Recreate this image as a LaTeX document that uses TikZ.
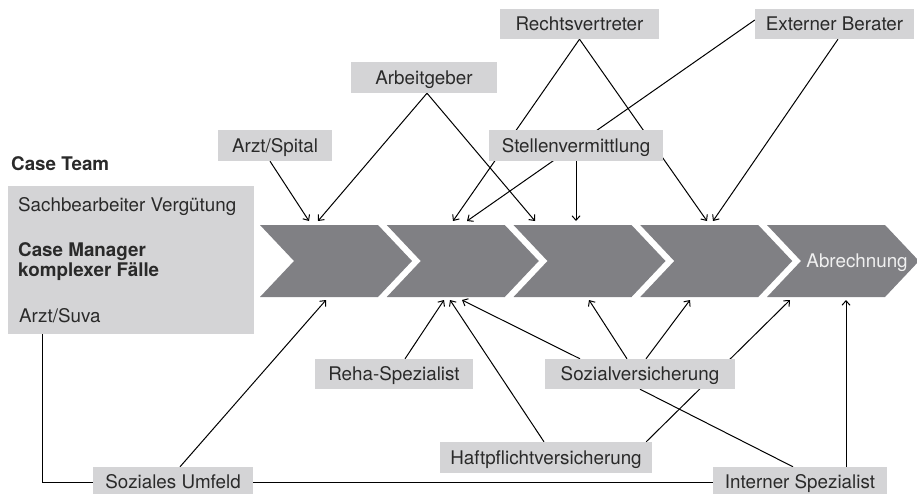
\documentclass[tikz,border=0pt]{standalone}
\usepackage{fontspec}
\setmainfont{TeX Gyre Heros}
\usetikzlibrary{arrows.meta}
\definecolor{boxgray}{HTML}{D4D4D6}
\definecolor{chevgray}{HTML}{808084}
\definecolor{txt}{HTML}{2A2A2A}
\pgfdeclarelayer{bg}
\pgfsetlayers{bg,main}
\begin{document}
\begin{tikzpicture}[x=1pt,y=-1pt,
  every node/.style={font=\fontsize{18.8}{21}\selectfont, text=txt},
  lbl/.style={fill=boxgray, inner sep=0pt, minimum height=31pt, text height=14pt, text depth=1pt},
  plain/.style={inner sep=0pt, anchor=base west},
  conn/.style={line width=1pt, draw=black},
  arr/.style={conn, -{Straight Barb[length=4.5pt,width=8pt]}}]
\useasboundingbox (0,0) rectangle (917,493);
\clip (0,0) rectangle (917,493);

% case team
\node[plain, font=\fontsize{18.8}{21}\selectfont\bfseries] (ctlabel) at (11,170.5) {Case Team};
\node[fill=boxgray, inner sep=0pt, minimum width=246pt, minimum height=148pt] (team) at (131,260) {};
\node[plain] (sach) at (18,211.5) {Sachbearbeiter Vergütung};
\node[plain, font=\fontsize{18.8}{21}\selectfont\bfseries] (cm1) at (18,256) {Case Manager};
\node[plain, font=\fontsize{18.8}{21}\selectfont\bfseries] (cm2) at (18,276.5) {komplexer Fälle};
\node[plain] (suva) at (19,322.5) {Arzt/Suva};

% actors
\node[lbl, minimum width=114pt] (arzt) at (275,145.5) {Arzt/Spital};
\node[lbl, minimum width=146pt] (arbeit) at (424,77.5) {Arbeitgeber};
\node[lbl, minimum width=159pt, minimum height=30pt] (recht) at (579.5,24) {Rechtsvertreter};
\node[lbl, minimum width=159pt, minimum height=30pt] (extern) at (834.5,24) {Externer Berater};
\node[lbl, minimum width=174pt] (stellen) at (576,145.5) {Stellenvermittlung};
\node[lbl, minimum width=158pt, minimum height=30pt] (reha) at (394,374) {Reha-Spezialist};
\node[lbl, minimum width=190pt, minimum height=30pt] (sozial) at (640,374) {Sozialversicherung};
\node[lbl, minimum width=212pt] (haft) at (546,457.5) {Haftpflichtversicherung};
\node[lbl, minimum width=160pt, minimum height=30pt] (umfeld) at (173,482) {Soziales Umfeld};
\node[lbl, minimum width=174pt, minimum height=30pt] (intern) at (800,482) {Interner Spezialist};

% arrow end points on the chevrons
\coordinate (t1) at (309,221);
\coordinate (t2) at (318,221);
\coordinate (t3) at (535,221);
\coordinate (t4) at (453,221);
\coordinate (t5) at (467,221);
\coordinate (t6) at (576,221);
\coordinate (t7) at (707,221);
\coordinate (t8) at (713,221);
\coordinate (b1) at (326,300);
\coordinate (b2) at (444,300);
\coordinate (b3) at (450,300);
\coordinate (b4) at (462,300);
\coordinate (b5) at (589,300);
\coordinate (b6) at (690,300);
\coordinate (b7) at (790,300);
\coordinate (b8) at (846,300);

\begin{pgfonlayer}{bg}
  \foreach \x in {260,386.75,513.5,640.25,767}
    \fill[chevgray] (\x,225) -- ++(118,0) -- ++(34,36) -- ++(-34,36) -- ++(-118,0) -- ++(34,-36) -- cycle;

  % from above
  \draw[arr] ([xshift=-5pt]arzt.south) -- (t1);
  \draw[arr] ([xshift=3pt]arbeit.south) -- (t2);
  \draw[arr] ([xshift=3pt]arbeit.south) -- (t3);
  \draw[arr] (recht.south) -- (t4);
  \draw[arr] (recht.south) -- (t7);
  \draw[arr] ([yshift=4pt]extern.west) -- (t5);
  \draw[arr] ([xshift=3.5pt]extern.south) -- (t8);
  \draw[arr] (stellen.south) -- (t6);

  % from below
  \draw[arr] ([xshift=7pt]umfeld.north) -- (b1);
  \draw[arr] ([xshift=11pt]reha.north) -- (b2);
  \draw[arr] ([xshift=-2pt]haft.north) -- (b3);
  \draw[arr] ([xshift=-60pt]sozial.north) -- (b4);
  \draw[arr] ([xshift=-13pt]sozial.north) -- (b5);
  \draw[arr] ([xshift=6pt]sozial.north) -- (b6);
  \draw[arr] ([xshift=-6pt]haft.north east) -- (b7);
  \draw[arr] ([xshift=46pt]intern.north) -- (b8);
  \draw[conn] (sozial.south) -- ([xshift=-7pt]intern.north);

  % case team link along the bottom
  \draw[conn] ([xshift=35pt]team.south west) |- (umfeld.west);
  \draw[conn] (umfeld.east) -- (intern.west);
\end{pgfonlayer}

\node[text=white!94!black, inner sep=0pt, text height=14pt, text depth=1pt] (abr) at (857,261) {Abrechnung};
\end{tikzpicture}
\end{document}
